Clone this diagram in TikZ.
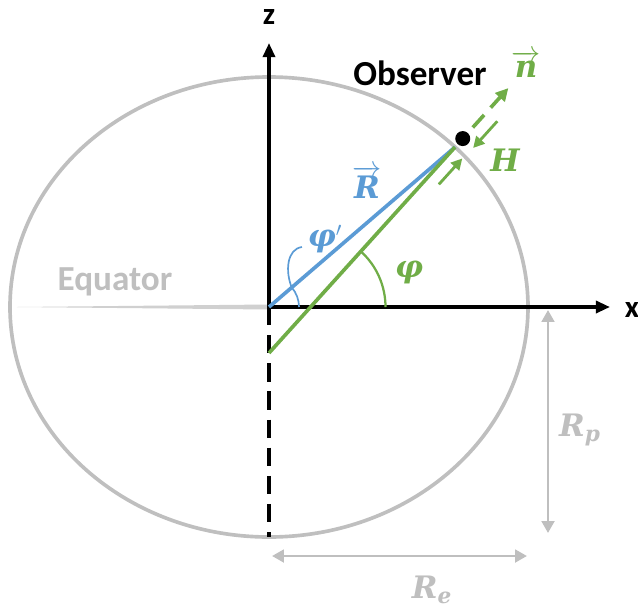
\documentclass[tikz,border=0pt]{standalone}
\usepackage{amsmath,amssymb}
\usepackage{fontspec}
\setsansfont{Carlito}
\newfontfamily\symfont{DejaVu Serif}
\usetikzlibrary{arrows.meta,calc}
\definecolor{earthGray}{HTML}{BFBFBF}
\definecolor{equatorGray}{HTML}{D0D0D0}
\definecolor{radiusBlue}{HTML}{5B9BD5}
\definecolor{normalGreen}{HTML}{70AD47}
\newcommand{\sym}[1]{\text{\symfont\bfseries\itshape #1}}

\begin{document}
\begin{tikzpicture}[
    x=0.025cm, y=0.025cm,
    every node/.style={font=\sffamily\bfseries\fontsize{25}{30}\selectfont, align=center},
    axislabel/.style={font=\sffamily\bfseries\fontsize{22}{26}\selectfont},
    mathlabel/.style={font=\fontsize{22}{26}\selectfont},
    axis/.style={-{Triangle[length=10pt, width=8.5pt]}, line width=2.4pt, black},
    dimline/.style={{Triangle[length=8.5pt, width=9pt]}-{Triangle[length=8.5pt, width=9pt]}, line width=2pt, earthGray},
    hmark/.style={-{Triangle[length=8pt, width=8pt]}, line width=2pt, normalGreen}
  ]
    \useasboundingbox (-269,-301) rectangle (369,307);

    % earth and equator
    \coordinate (O) at (0,0);
    \coordinate (EqL) at (-252,0);
    \draw[earthGray, line width=2.6pt] (O) ellipse [x radius=259, y radius=230];
    \fill[equatorGray] (EqL) -- ($(O)+(0,2.5)$) -- ($(O)+(0,-2.5)$) -- cycle;
    \node[text=earthGray] (equator) at (-154,25) {Equator};

    % axes
    \coordinate (Ztip) at (0,264);
    \coordinate (Xtip) at (341,0);
    \coordinate (S) at (0,-230);
    \draw[black, line width=2.4pt, dash pattern=on 13pt off 7pt] (O) -- (S);
    \draw[axis] (O) -- (Ztip);
    \draw[axis] (O) -- (Xtip);
    \node[axislabel] (zlabel) at (0,290) {z};
    \node[axislabel] (xlabel) at (363,-3) {x};

    % geodetic normal
    \begin{scope}[shift={(0,-46)}, rotate=47.9]
      \coordinate (G) at (0,0);
      \coordinate (P) at (277.5,0);
      \coordinate (Obs) at (289,0);
      \coordinate (Nstart) at (304,0);
      \coordinate (Ntip) at (357,0);
      \coordinate (H1a) at (325,-14);
      \coordinate (H1b) at (289,-14);
      \coordinate (H2a) at (239,-13);
      \coordinate (H2b) at (274,-13);
    \end{scope}
    \coordinate (C) at (41.5,0);

    \draw[radiusBlue, line width=2.6pt] (O) -- (P);
    \draw[normalGreen, line width=2.6pt] (G) -- (P);
    \draw[normalGreen, line width=2.6pt, dash pattern=on 12pt off 7pt,
      -{Triangle[length=9pt, width=9pt]}] (Nstart) -- (Ntip);
    \draw[hmark] (H1a) -- (H1b);
    \draw[hmark] (H2a) -- (H2b);
    \fill[black] (Obs) circle (7.5);

    % angles
    \draw[normalGreen, line width=1.6pt] ($(C)+(75,0)$) arc [start angle=0, end angle=47.9, radius=75];
    \draw[radiusBlue, line width=1.2pt] ($(O)+(30,0)$) arc [start angle=0, end angle=40.7, radius=30]
      .. controls (16,36) and (18,58) .. (33,60);

    % labels
    \node (observer) at (151,234) {Observer};
    \node[mathlabel, text=normalGreen] (nlabel) at (257,243) {$\overrightarrow{\sym{n}}$};
    \node[mathlabel, text=normalGreen] (hlabel) at (236,147) {$\sym{H}$};
    \node[mathlabel, text=radiusBlue] (rlabel) at (98,125) {$\overrightarrow{\sym{R}}$};
    \node[mathlabel, text=radiusBlue] (phiprime) at (56,68) {$\sym{φ}'$};
    \node[mathlabel, text=normalGreen] (philabel) at (140,35) {$\sym{φ}$};

    % radii
    \coordinate (RpTop) at (279,-3);
    \coordinate (RpBot) at (279,-226);
    \coordinate (ReL) at (3,-249);
    \coordinate (ReR) at (258,-249);
    \draw[dimline] (RpTop) -- (RpBot);
    \draw[dimline] (ReL) -- (ReR);
    \node[mathlabel, text=earthGray] (rp) at (311,-123) {$\sym{R}_{\sym{p}}$};
    \node[mathlabel, text=earthGray] (re) at (163,-283) {$\sym{R}_{\sym{e}}$};
  \end{tikzpicture}
\end{document}
